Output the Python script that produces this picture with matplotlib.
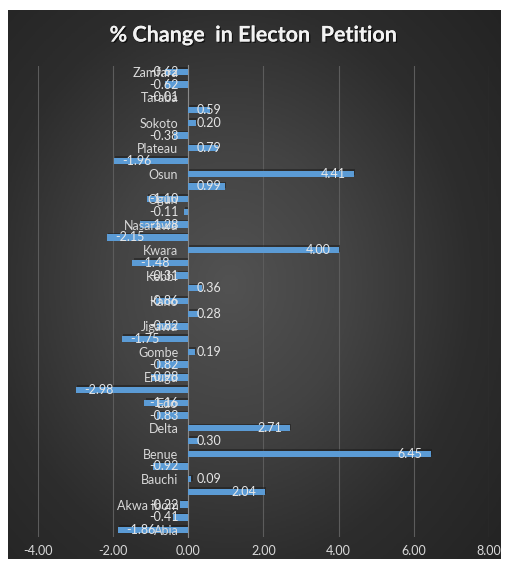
import numpy as np
import matplotlib
matplotlib.use("Agg")
import matplotlib.pyplot as plt
import matplotlib.patheffects as pe

plt.rcParams['font.family'] = ['Lato', 'DejaVu Sans']

# states, bottom to top as drawn
states = ["Abia", "Adamawa", "Akwa ibom", "Anambra", "Bauchi", "Bayelsa", "Benue",
          "Borno", "Delta", "Ebonyi", "Edo", "Ekiti", "Enugu", "FCT", "Gombe", "Imo",
          "Jigawa", "Kaduna", "Kano", "Katsina", "Kebbi", "Kogi", "Kwara", "Lagos",
          "Nasarawa", "Niger", "Ogun", "Ondo", "Osun", "Oyo", "Plateau", "Rivers",
          "Sokoto", "Cross River", "Taraba", "Yobe", "Zamfara"]
change = [-1.86, -0.41, -0.22, 2.04, 0.09, -0.92, 6.45,
          0.30, 2.71, -0.83, -1.16, -2.98, -0.98, -0.82, 0.19, -1.75,
          -0.82, 0.28, -0.86, 0.36, -0.31, -1.48, 4.00, -2.15,
          -1.28, -0.11, -1.10, 0.99, 4.41, -1.96, 0.79, -0.38,
          0.20, 0.59, -0.01, -0.62, -0.62]
xticks = [-4, -2, 0, 2, 4, 6, 8]

W, H = 506, 564
fig = plt.figure(figsize=(W / 100, H / 100), dpi=100)
fig.patch.set_facecolor('white')

# dark radial gradient panel
bg = fig.add_axes([8 / W, 5 / H, 493 / W, 549 / H])
yy, xx = np.mgrid[-1:1:300j, -1:1:300j]
r = np.sqrt(((xx + 0.1) * 0.95) ** 2 + (yy * 0.9) ** 2)
bg.imshow(r, cmap=matplotlib.colors.LinearSegmentedColormap.from_list(
    'g', ['#525252', '#434343', '#2d2d2d', '#232323']), vmin=0, vmax=1.4,
    aspect='auto', extent=[0, 1, 0, 1])
bg.set_axis_off()

ax = fig.add_axes([37.6 / W, 1 - 536.5 / H, 451.4 / W, 471 / H])
ax.set_facecolor('none')

y = np.arange(len(states))
ax.barh(y + 0.12, change, height=0.5, left=0.03, color='#1a1a1a', alpha=0.5, zorder=2)
ax.barh(y, change, height=0.5, color='#5b9bd5', zorder=3)

ax.set_xlim(-4, 8)
ax.set_ylim(-0.5, len(states) - 0.5)
ax.set_xticks(xticks)
ax.set_xticklabels([f"{t:.2f}" for t in xticks], color='#d9d9d9', fontsize=9)
ax.grid(axis='x', color='#5c5c5c', linewidth=0.8, zorder=0)

ax.spines['left'].set_position(('data', 0))
ax.spines['left'].set_color('#8a8a8a')
for s in ['top', 'right', 'bottom']:
    ax.spines[s].set_visible(False)
ax.tick_params(axis='both', length=0)
ax.tick_params(axis='x', pad=6)
ax.set_yticks(y)
ax.set_yticklabels([s if i % 2 == 0 else '' for i, s in enumerate(states)],
                   color='#d9d9d9', fontsize=9)
ax.tick_params(axis='y', pad=7)
ax.yaxis.set_zorder(5)

# value labels: inside end when the bar is long enough, otherwise inside base
for i, v in enumerate(change):
    txt = f"{v:.2f}"
    if abs(v) > 1.35:
        x = v - 0.22 if v > 0 else v + 0.22
        ha = 'right' if v > 0 else 'left'
    else:
        x = 0.24 if v > 0 else -0.24
        ha = 'left' if v > 0 else 'right'
    ax.text(x, i, txt, ha=ha, va='center', fontsize=9, color='#e6e6e6', zorder=6)

fig.text(0.5, 1 - 35 / H, "% Change  in Electon  Petition", ha='center', va='center',
         fontsize=15.5, fontweight='bold', color='#f2f2f2',
         path_effects=[pe.withSimplePatchShadow(offset=(1, -1), shadow_rgbFace='black', alpha=0.6),
                       pe.Normal()])

fig.savefig('out.png', dpi=100, facecolor=fig.get_facecolor())
